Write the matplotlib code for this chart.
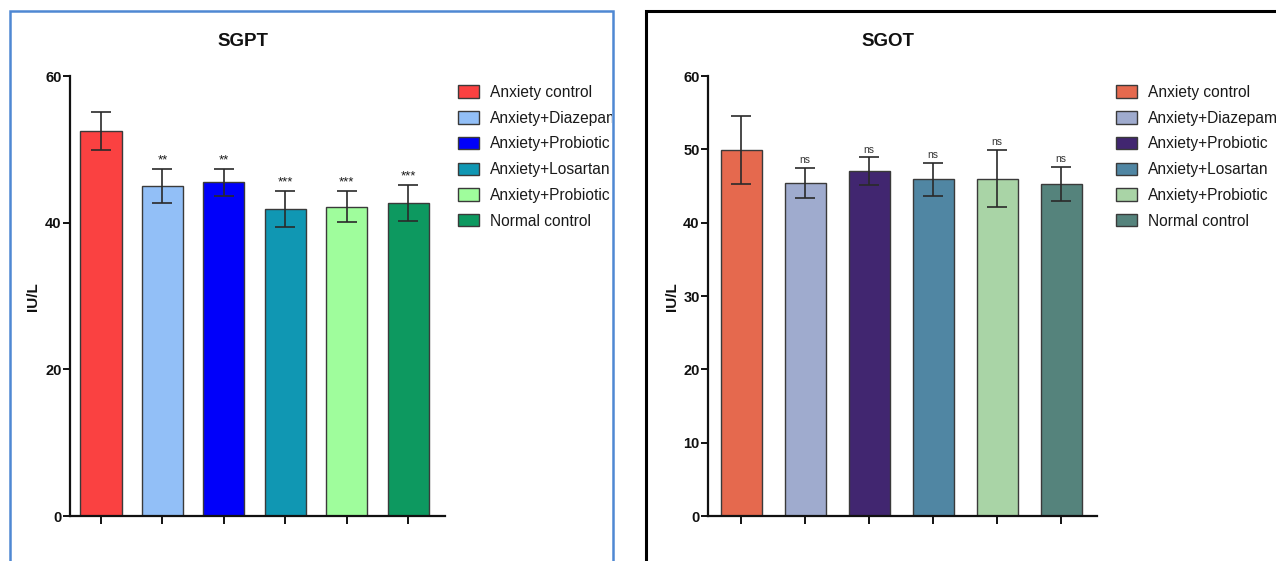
import matplotlib
matplotlib.use("Agg")
import matplotlib.pyplot as plt
from matplotlib.patches import Rectangle, Patch
from matplotlib.transforms import Bbox, TransformedBbox

plt.rcParams['font.family'] = ['Liberation Sans', 'DejaVu Sans']

groups = ["Anxiety control", "Anxiety+Diazepam", "Anxiety+Probiotic",
          "Anxiety+Losartan", "Anxiety+Probiotic", "Normal control"]

sgpt_mean = [52.5, 45.0, 45.5, 41.9, 42.2, 42.7]
sgpt_err = [2.6, 2.3, 1.8, 2.45, 2.1, 2.45]
sgpt_sig = ["", "**", "**", "***", "***", "***"]
sgpt_colors = ["#FA4141", "#92BFF7", "#0000FA", "#1097B3", "#9FFD9C", "#0D9960"]

sgot_mean = [49.9, 45.4, 47.0, 45.9, 46.0, 45.3]
sgot_err = [4.6, 2.1, 1.9, 2.3, 3.9, 2.3]
sgot_sig = ["", "ns", "ns", "ns", "ns", "ns"]
sgot_colors = ["#E5694E", "#9FABCE", "#412670", "#5086A3", "#A9D4A6", "#55837C"]

W, H = 1276, 561
fig = plt.figure(figsize=(W / 100, H / 100), dpi=100)
fig.patch.set_facecolor("white")


def px_axes(left, right, top, bottom):
    return fig.add_axes([left / W, 1 - bottom / H, (right - left) / W, (bottom - top) / H])


def draw_panel(ax, means, errs, sigs, colors, title, yticks, xlim, bw, sigsize,
               sigcolor, tcx, ylab_x, leg_x, clip_x1):
    x = list(range(len(means)))
    ax.bar(x, means, width=bw, color=colors, edgecolor="#3a3a3a", linewidth=1.0, zorder=2)
    ax.errorbar(x, means, yerr=errs, fmt="none", ecolor="#2a2a2a", elinewidth=1.2,
                capsize=7.2, capthick=1.2, zorder=3)
    for xi, m, e, s in zip(x, means, errs, sigs):
        if s:
            ax.annotate(s, (xi, m + e), xytext=(0, 2), textcoords="offset points",
                        ha="center", va="bottom", fontsize=sigsize, color=sigcolor)
    ax.set_xlim(*xlim)
    ax.set_ylim(0, 60)
    ax.set_yticks(yticks)
    ax.set_yticklabels([str(v) for v in yticks], fontweight="bold", fontsize=10.5)
    ax.set_xticks(x)
    ax.set_xticklabels([""] * len(x))
    for sp in ["top", "right"]:
        ax.spines[sp].set_visible(False)
    for sp in ["left", "bottom"]:
        ax.spines[sp].set_linewidth(1.6)
        ax.spines[sp].set_color("#111111")
    ax.tick_params(axis="y", direction="out", length=5, width=1.4, pad=1, colors="#111111")
    ax.tick_params(axis="x", direction="out", length=6, width=1.4, colors="#111111")
    ax.set_facecolor("none")
    fig.text(tcx / W, 1 - 42 / H, title, ha="center", va="center", fontsize=13.5,
             fontweight="bold", color="#111111")
    fig.text(ylab_x / W, 1 - 297 / H, "IU/L", ha="center", va="center", rotation=90,
             fontsize=11, fontweight="bold", color="#111111")
    handles = [Patch(facecolor=c, edgecolor="#3a3a3a", linewidth=1.0) for c in colors]
    leg = fig.legend(handles, groups, loc="upper left",
                     bbox_to_anchor=(leg_x / W, 1 - 85 / H), frameon=False,
                     fontsize=11.2, borderpad=0, borderaxespad=0,
                     handlelength=1.37, handleheight=0.85, handletextpad=0.7,
                     labelspacing=0.69)
    clip = TransformedBbox(Bbox([[0, 0], [clip_x1 / W, 1]]), fig.transFigure)
    for t in leg.get_texts():
        t.set_color("#1a1a1a")
        t.set_clip_box(clip)
        t.set_clip_on(True)
    return leg


ax1 = px_axes(70, 445, 76, 516)
draw_panel(ax1, sgpt_mean, sgpt_err, sgpt_sig, sgpt_colors, "SGPT", [0, 20, 40, 60],
           (-0.505, 5.60), 0.67, 9.5, "#1a1a1a", 243, 33, 458, 612)

ax2 = px_axes(708, 1097, 76, 516)
draw_panel(ax2, sgot_mean, sgot_err, sgot_sig, sgot_colors, "SGOT",
           [0, 10, 20, 30, 40, 50, 60], (-0.516, 5.56), 0.64, 7.5, "#333333", 888, 672,
           1116, W)

# panel borders
fig.add_artist(Rectangle((10 / W, -0.2), (613 - 10) / W, 0.2 + (1 - 11 / H),
                         transform=fig.transFigure, fill=False, edgecolor="#4F88D3",
                         linewidth=1.8, zorder=10))
fig.add_artist(Rectangle((646 / W, -0.2), 1.0, 0.2 + (1 - 11 / H),
                         transform=fig.transFigure, fill=False, edgecolor="#000000",
                         linewidth=2.2, zorder=10))

fig.savefig("out.png", dpi=100)
